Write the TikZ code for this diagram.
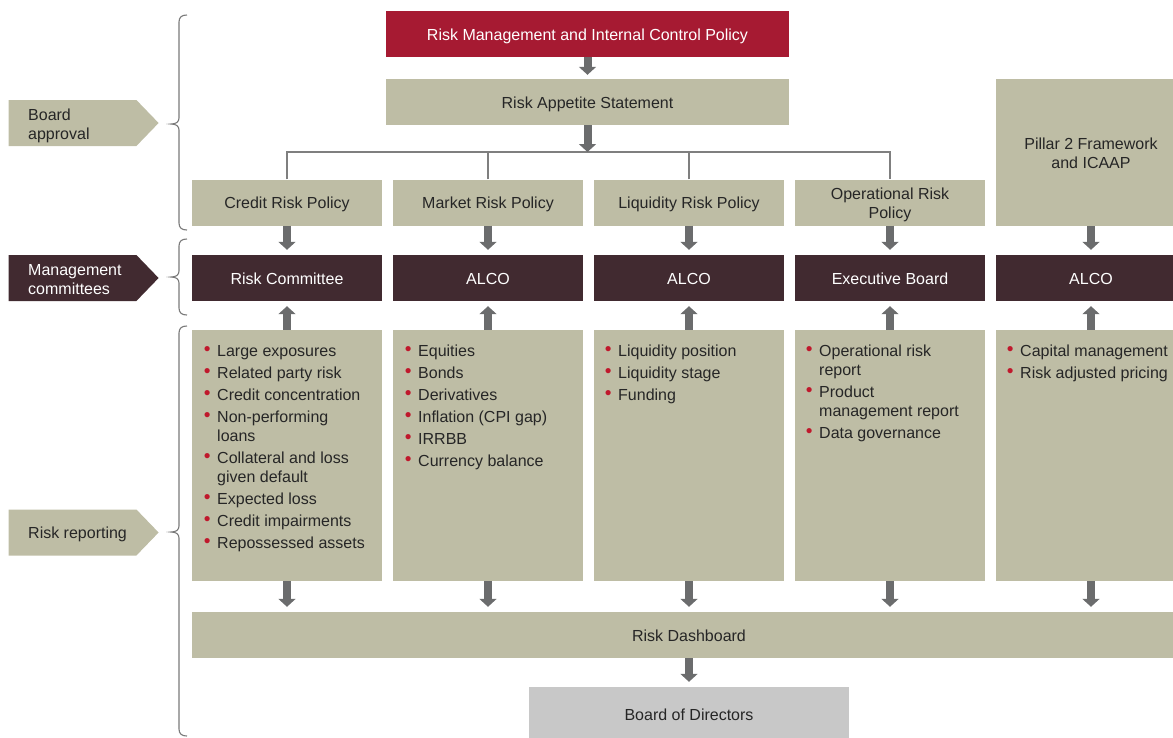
\documentclass[tikz,border=0pt]{standalone}
\usepackage{fontspec}
\setmainfont{Liberation Sans}
\usetikzlibrary{arrows.meta,shapes.symbols}

\definecolor{khaki}{HTML}{BEBDA5}
\definecolor{plum}{HTML}{412A30}
\definecolor{crimson}{HTML}{A61A32}
\definecolor{arrowgray}{HTML}{6B6C6D}
\definecolor{linegray}{HTML}{7F7F7F}
\definecolor{bracegray}{HTML}{7A7A7A}
\definecolor{boardgray}{HTML}{C8C8C8}
\definecolor{dotred}{HTML}{C0182C}
\definecolor{ink}{HTML}{262626}

% red bullet hanging to the left of an item
\newcommand\bl{\leavevmode\llap{\textcolor{dotred}{\raisebox{1pt}{\scalebox{1.2}{\textbullet}}}\hspace{6.5pt}}}
% left curly brace: top, tip, bottom (y values)
\newcommand\curlybrace[3]{%
  \draw[bracepen] (187,#1) .. controls (182,#1) and (179,#1+2) .. (179,#1+7)
    -- (179,#2-6) .. controls (179,#2-2) and (176,#2) .. (171,#2)
    .. controls (176,#2) and (179,#2+2) .. (179,#2+6)
    -- (179,#3-7) .. controls (179,#3-2) and (182,#3) .. (187,#3);}

\tikzset{
  every node/.style={font=\fontsize{16}{19}\selectfont},
  box/.style={rectangle, inner sep=0pt, minimum height=46pt, align=center,
              text height=12.4pt, text depth=0pt},
  twoline/.style={text height=31.4pt, text depth=0pt},
  policy/.style={box, fill=khaki, text=ink, minimum width=190pt},
  committee/.style={box, fill=plum, text=white, minimum width=190pt},
  redbox/.style={box, fill=crimson, text=white, minimum width=403pt},
  listbox/.style={rectangle, inner sep=0pt, fill=khaki, minimum width=190pt, minimum height=251pt},
  listtext/.style={anchor=base west, inner sep=0pt, text=ink},
  tag/.style={signal, signal to=east, signal pointer angle=92, inner sep=0pt,
              minimum width=150pt, minimum height=46pt},
  tagtext/.style={anchor=west, align=left, inner sep=0pt},
  garrow/.style={draw=arrowgray, line width=8pt, -{Triangle[width=17pt,length=8pt]}},
  tree/.style={draw=linegray, line width=1.2pt},
  bracepen/.style={draw=bracegray, line width=1.1pt},
}

\begin{document}
\begin{tikzpicture}[x=1pt,y=-1pt]
\useasboundingbox (0,0) rectangle (1173,737);

% left-hand stage labels
\node[tag, fill=khaki] (tagA) at (72.5,123) {};
\node[tagtext, text=ink] (tagAt) at (28,126) {Board\\approval};
\node[tag, fill=plum] (tagB) at (72.5,278) {};
\node[tagtext, text=white] (tagBt) at (28,280) {Management\\committees};
\node[tag, fill=khaki] (tagC) at (72.5,532.5) {};
\node[tagtext, text=ink] (tagCt) at (28,534) {Risk reporting};

% braces grouping the stages
\curlybrace{15}{124}{230}
\curlybrace{239}{277}{315}
\curlybrace{326}{532}{736}

% top of the hierarchy
\node[redbox] (rmic) at (587.5,34) {Risk Management and Internal Control Policy};
\node[policy, minimum width=403pt] (ras) at (587.5,102) {Risk Appetite Statement};
\coordinate (bus) at (587.5,152);

% policies
\node[policy] (pol1) at (287,202.5) {Credit Risk Policy};
\node[policy] (pol2) at (488,202.5) {Market Risk Policy};
\node[policy] (pol3) at (689,202.5) {Liquidity Risk Policy};
\node[policy, twoline] (pol4) at (890,202.5) {Operational Risk\\Policy};
\node[policy, twoline, minimum height=147pt] (pol5) at (1091,152.5) {Pillar 2 Framework\\and ICAAP};

% committees
\node[committee] (com1) at (287,278) {Risk Committee};
\node[committee] (com2) at (488,278) {ALCO};
\node[committee] (com3) at (689,278) {ALCO};
\node[committee] (com4) at (890,278) {Executive Board};
\node[committee] (com5) at (1091,278) {ALCO};

% reporting boxes
\node[listbox] (lst1) at (287,455.5) {};
\node[listbox] (lst2) at (488,455.5) {};
\node[listbox] (lst3) at (689,455.5) {};
\node[listbox] (lst4) at (890,455.5) {};
\node[listbox] (lst5) at (1091,455.5) {};

\node[listtext] (itm1) at (217,356) {\parbox[t]{165pt}{\raggedright
  \bl Large exposures\\[3pt]
  \bl Related party risk\\[3pt]
  \bl Credit concentration\\[3pt]
  \bl Non-performing\\loans\\[3pt]
  \bl Collateral and loss\\given default\\[3pt]
  \bl Expected loss\\[3pt]
  \bl Credit impairments\\[3pt]
  \bl Repossessed assets}};
\node[listtext] (itm2) at (418,356) {\parbox[t]{165pt}{\raggedright
  \bl Equities\\[3pt]
  \bl Bonds\\[3pt]
  \bl Derivatives\\[3pt]
  \bl Inflation (CPI gap)\\[3pt]
  \bl IRRBB\\[3pt]
  \bl Currency balance}};
\node[listtext] (itm3) at (618,356) {\parbox[t]{165pt}{\raggedright
  \bl Liquidity position\\[3pt]
  \bl Liquidity stage\\[3pt]
  \bl Funding}};
\node[listtext] (itm4) at (819,356) {\parbox[t]{165pt}{\raggedright
  \bl Operational risk\\report\\[3pt]
  \bl Product\\management report\\[3pt]
  \bl Data governance}};
\node[listtext] (itm5) at (1020,356) {\parbox[t]{165pt}{\raggedright
  \bl Capital management\\[3pt]
  \bl Risk adjusted pricing}};

% dashboard and board
\node[box, fill=khaki, text=ink, minimum width=994pt] (dash) at (689,635) {Risk Dashboard};
\node[box, fill=boardgray, text=ink, minimum width=320pt, minimum height=54pt] (board) at (689,714) {Board of Directors};

% distribution lines from the risk appetite statement
\draw[tree] (pol1.north) -- (pol1.north |- bus) -- (pol4.north |- bus) -- (pol4.north);
\draw[tree] (pol2.north) -- (pol2.north |- bus);
\draw[tree] (pol3.north) -- (pol3.north |- bus);

% flow arrows
\draw[garrow] (rmic.south) -- ([yshift=4pt]ras.north);
\draw[garrow] (ras.south) -- (bus);
\foreach \i in {1,...,5} {
  \draw[garrow] (pol\i.south) -- ([yshift=5pt]com\i.north);
  \draw[garrow] (lst\i.north) -- ([yshift=-5pt]com\i.south);
  \draw[garrow] (lst\i.south) -- ([yshift=5pt]lst\i.south |- dash.north);
}
\draw[garrow] (dash.south) -- ([yshift=5pt]board.north);
\end{tikzpicture}
\end{document}
